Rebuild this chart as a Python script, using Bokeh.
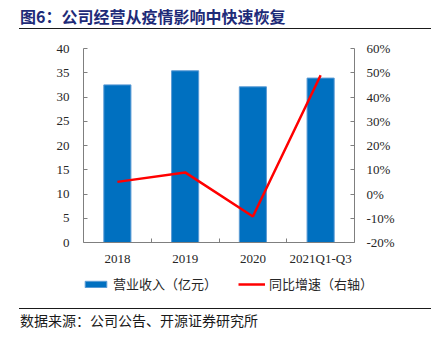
from bokeh.plotting import figure
from bokeh.models import (Range1d, LinearAxis, FixedTicker, NumeralTickFormatter,
                          Legend, LegendItem, ColumnDataSource, Div)
from bokeh.layouts import column
from bokeh.embed import file_html
from bokeh.resources import INLINE

# ---- data ----
categories = ["2018", "2019", "2020", "2021Q1-Q3"]
revenue = [32.5, 35.4, 32.1, 33.9]          # 营业收入（亿元）
growth = [0.050, 0.089, -0.093, 0.490]      # 同比增速（右轴）
left_ticks = [0, 5, 10, 15, 20, 25, 30, 35, 40]
right_ticks = [-0.2, -0.1, 0.0, 0.1, 0.2, 0.3, 0.4, 0.5, 0.6]

title_text = "图6：公司经营从疫情影响中快速恢复"
source_text = "数据来源：公司公告、开源证券研究所"
series_names = ["营业收入（亿元）", "同比增速（右轴）"]

W = 438
cjk = "'Noto Sans CJK SC'"
bar_fill, bar_edge, line_col = "#0070C0", "#5B9BD5", "#FF0000"
xpos = list(range(len(categories)))
src = ColumnDataSource(dict(x=xpos, rev=revenue, g=growth))

title_div = Div(
    text=f'<div style="margin-left:19px;width:412px;height:29px;border-bottom:1.5px solid #1a1a1a;'
         f'font-family:{cjk};font-weight:bold;font-size:16px;color:#1E2B78;line-height:32px;'
         f'padding-left:1px;">{title_text}</div>',
    width=W, height=31, margin=(0, 0, 0, 0))

p = figure(width=W, height=243, output_backend="svg", toolbar_location=None,
           x_range=Range1d(-0.5, len(categories) - 0.5), y_range=Range1d(0, 40),
           min_border_left=83, min_border_right=84, min_border_top=17, min_border_bottom=32,
           margin=(0, 0, 0, 0))
p.frame_align = False
p.extra_y_ranges = {"pct": Range1d(-0.2, 0.6)}
p.outline_line_color = None
p.grid.visible = False

serif = "Liberation Serif"
axis_col = "#7f7f7f"
lab_col = "#262626"

p.vbar(x="x", top="rev", width=0.4, source=src, fill_color=bar_fill,
       line_color=bar_edge, line_width=1)
p.line(x="x", y="g", source=src, y_range_name="pct", line_color=line_col, line_width=2.5)

# x axis
xa = p.xaxis[0]
xa.ticker = FixedTicker(ticks=xpos, minor_ticks=[i + 0.5 for i in xpos[:-1]])
xa.major_label_overrides = {i: c for i, c in zip(xpos, categories)}
xa.major_tick_line_color = None
xa.minor_tick_in = 4
xa.minor_tick_out = 0
xa.minor_tick_line_color = axis_col
xa.axis_line_color = axis_col
xa.major_label_standoff = 2
xa.major_label_text_font = serif
xa.major_label_text_font_size = "13px"
xa.major_label_text_color = lab_col

# left axis
ya = p.yaxis[0]
ya.ticker = FixedTicker(ticks=left_ticks)
ya.major_tick_in = 4
ya.major_tick_out = 0
ya.minor_tick_line_color = None
ya.axis_line_color = axis_col
ya.major_tick_line_color = axis_col
ya.major_label_standoff = 14
ya.major_label_text_font = serif
ya.major_label_text_font_size = "13px"
ya.major_label_text_color = lab_col

# right axis
ra = LinearAxis(y_range_name="pct", ticker=FixedTicker(ticks=right_ticks),
                formatter=NumeralTickFormatter(format="0%"))
ra.major_tick_in = 4
ra.major_tick_out = 0
ra.minor_tick_line_color = None
ra.axis_line_color = axis_col
ra.major_tick_line_color = axis_col
ra.major_label_standoff = 12
ra.major_label_text_font = serif
ra.major_label_text_font_size = "13px"
ra.major_label_text_color = lab_col
p.add_layout(ra, "right")

# legend strip (its own small canvas, so the legend is not clipped by the chart frame);
# the strip's ranges keep its copies of the series out of view, only the legend shows
lg = figure(width=W, height=34, output_backend="svg", toolbar_location=None,
            x_range=Range1d(100, 101), y_range=Range1d(100, 101),
            x_axis_type=None, y_axis_type=None,
            min_border_left=82, min_border_top=0, min_border_right=0, min_border_bottom=0,
            margin=(0, 0, 0, 0))
lg.frame_align = False
lg.outline_line_color = None
lg.grid.visible = False
r_bar = lg.vbar(x="x", top="rev", width=0.4, source=src, fill_color=bar_fill,
                line_color=bar_edge, line_width=1)
r_line = lg.line(x="x", y="g", source=src, line_color=line_col, line_width=2.5)
legend = Legend(items=[LegendItem(label=series_names[0], renderers=[r_bar]),
                       LegendItem(label=series_names[1], renderers=[r_line])],
                orientation="horizontal", location="top_left",
                glyph_width=27, glyph_height=8, label_standoff=4, spacing=21,
                padding=0, margin=0, border_line_color=None, background_fill_alpha=0,
                label_text_font="Noto Sans CJK SC", label_text_font_size="13px",
                label_text_color=lab_col)
lg.add_layout(legend)

foot_div = Div(
    text=f'<div style="margin-left:19px;width:412px;border-top:1.5px solid #1a1a1a;'
         f'font-family:{cjk};font-size:14px;color:#1a1a1a;line-height:23px;padding-left:1px;">'
         f'{source_text}</div>',
    width=W, height=29, margin=(0, 0, 0, 0))

layout = column(title_div, p, lg, foot_div, spacing=0)
open("out.html", "w").write(file_html(layout, INLINE))
